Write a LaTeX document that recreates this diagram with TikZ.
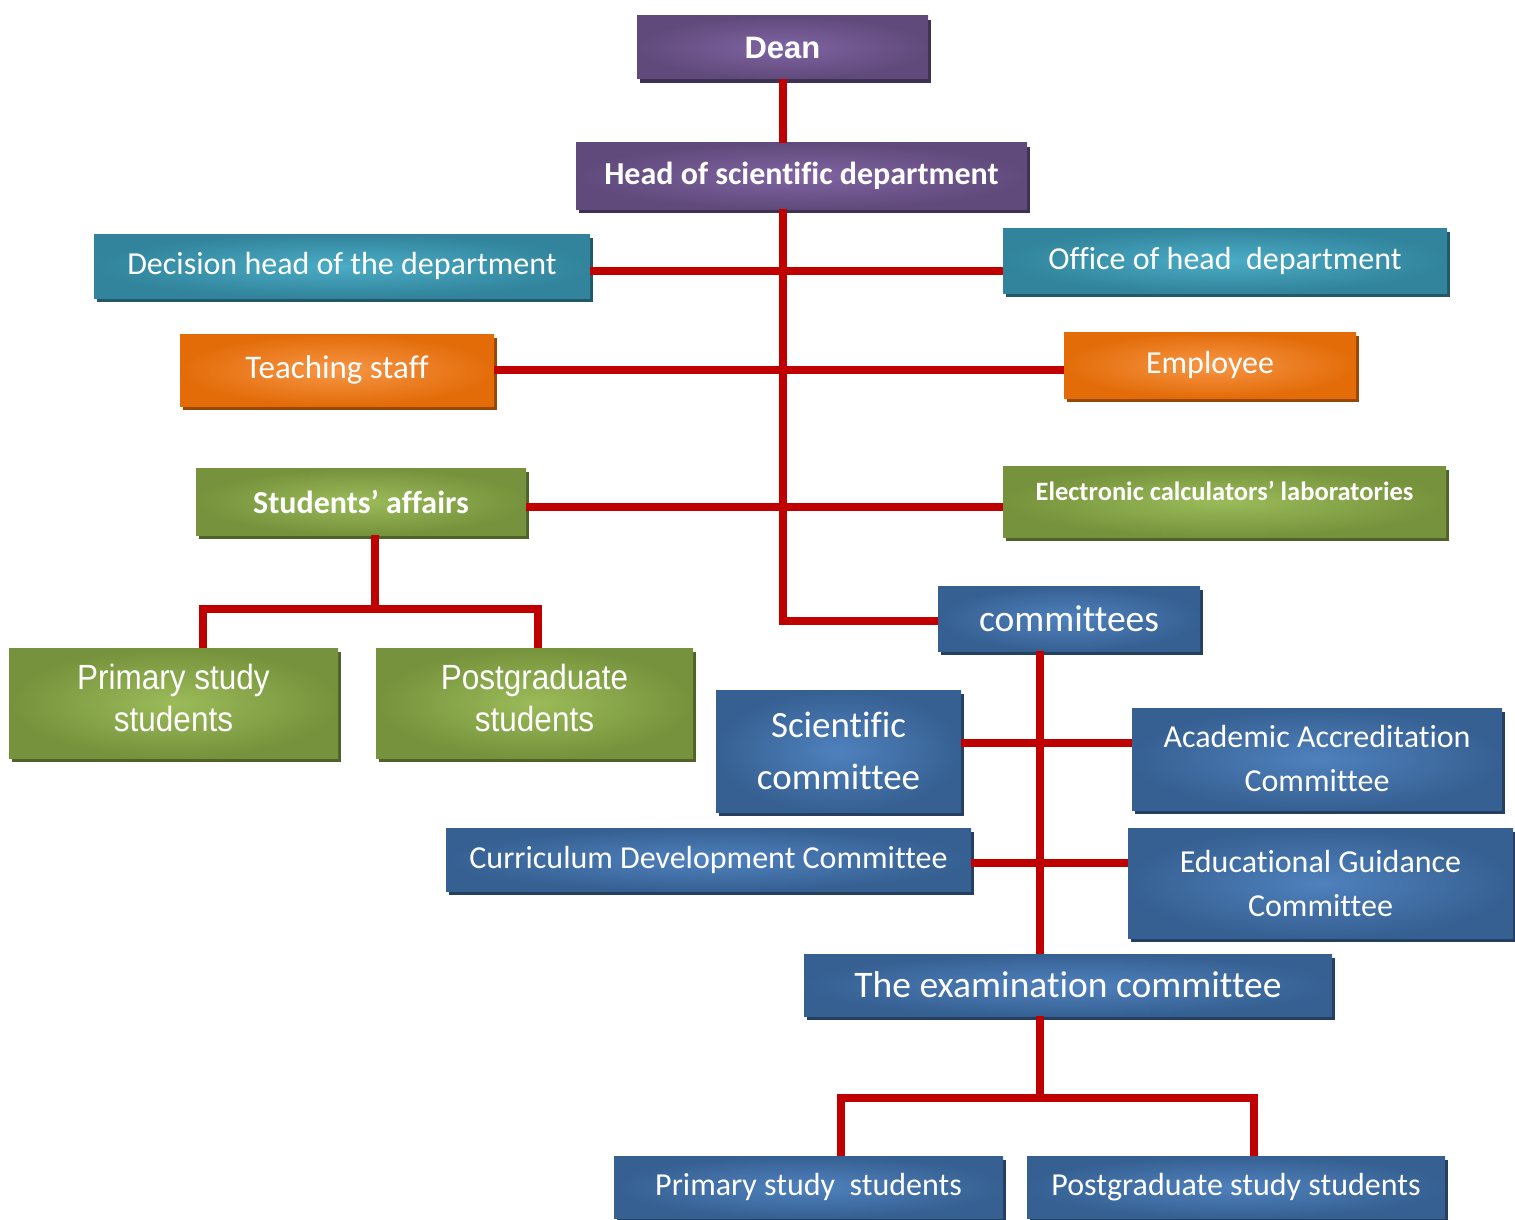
\documentclass[tikz,border=0pt]{standalone}
\usepackage{fontspec}
\setmainfont{Carlito}[Ligatures=CommonOff]
\newfontfamily\arialfont{Liberation Sans}
\newfontfamily\narrowfont{Liberation Sans}[FakeStretch=0.9]
\usetikzlibrary{shadows,calc}
\definecolor{cLine}{HTML}{C00000}
\definecolor{cPurpleOut}{HTML}{604A7B}
\definecolor{cPurpleIn}{HTML}{8064A2}
\definecolor{cPurpleSh}{HTML}{3F3151}
\definecolor{cTealOut}{HTML}{31849B}
\definecolor{cTealIn}{HTML}{4BACC6}
\definecolor{cTealSh}{HTML}{215968}
\definecolor{cOrangeOut}{HTML}{E36C09}
\definecolor{cOrangeIn}{HTML}{F79646}
\definecolor{cOrangeSh}{HTML}{984806}
\definecolor{cGreenOut}{HTML}{76923C}
\definecolor{cGreenIn}{HTML}{9BBB59}
\definecolor{cGreenSh}{HTML}{4F6228}
\definecolor{cBlueOut}{HTML}{366092}
\definecolor{cBlueIn}{HTML}{4F81BD}
\definecolor{cBlueSh}{HTML}{243F60}
\newcommand{\fsz}[2]{\fontsize{#1}{#2}\selectfont}
\tikzset{
  box/.style={rectangle, inner sep=0pt, align=center, text=white, shading=radial},
  purplebox/.style={box, inner color=cPurpleIn, outer color=cPurpleOut, drop shadow={shadow xshift=3pt, shadow yshift=-4pt, opacity=1, fill=cPurpleSh}},
  tealbox/.style={box, inner color=cTealIn, outer color=cTealOut, drop shadow={shadow xshift=3pt, shadow yshift=-4pt, opacity=1, fill=cTealSh}},
  orangebox/.style={box, inner color=cOrangeIn, outer color=cOrangeOut, drop shadow={shadow xshift=3pt, shadow yshift=-4pt, opacity=1, fill=cOrangeSh}},
  greenbox/.style={box, inner color=cGreenIn, outer color=cGreenOut, drop shadow={shadow xshift=3pt, shadow yshift=-4pt, opacity=1, fill=cGreenSh}},
  bluebox/.style={box, inner color=cBlueIn, outer color=cBlueOut, drop shadow={shadow xshift=3pt, shadow yshift=-4pt, opacity=1, fill=cBlueSh}},
  link/.style={cLine, line width=8pt},
}

\begin{document}
\begin{tikzpicture}[x=1pt, y=-1pt]
  \useasboundingbox (0,0) rectangle (1515,1220);
  % top of the chart
  \node[purplebox, minimum width=291pt, minimum height=63pt, font=\arialfont\bfseries\fsz{31}{34}] (dean) at (782.5, 47.5)
    {Dean};
  \node[purplebox, minimum width=451pt, minimum height=66pt, font=\bfseries\fsz{32}{36}] (head) at (801.5, 176)
    {Head of scientific department};
  \node[tealbox, minimum width=496pt, minimum height=64pt, font=\fsz{32}{36}] (decision) at (342, 266)
    {Decision head of the department};
  \node[tealbox, minimum width=444pt, minimum height=65pt, font=\fsz{32}{36}] (office) at (1225, 260.5)
    {Office of head\ \ department};
  \node[orangebox, minimum width=314pt, minimum height=72pt, font=\fsz{33}{36}] (teaching) at (337, 370)
    {Teaching staff};
  \node[orangebox, minimum width=292pt, minimum height=66pt, font=\fsz{32}{36}] (employee) at (1210, 365)
    {Employee};
  \node[greenbox, minimum width=330pt, minimum height=67pt, font=\bfseries\fsz{32}{36}] (affairs) at (361, 501.5)
    {Students’ affairs};
  \node[greenbox, minimum width=443pt, minimum height=71pt, text depth=22pt, font=\bfseries\fsz{26.5}{30}] (labs) at (1224.5, 501.5)
    {Electronic calculators’ laboratories};
  \node[bluebox, minimum width=262pt, minimum height=65pt, font=\fsz{37.5}{40}] (committees) at (1069, 618.5)
    {committees};
  % students' affairs branch
  \node[greenbox, minimum width=329pt, minimum height=110pt, font=\narrowfont\fsz{35}{42}] (primary) at (173.5, 703)
    {Primary study\\students\\[-32pt]};
  \node[greenbox, minimum width=317pt, minimum height=110pt, font=\narrowfont\fsz{35}{42}] (postgrad) at (534.5, 703)
    {Postgraduate\\students\\[-32pt]};
  % committees branch
  \node[bluebox, minimum width=245pt, minimum height=122pt, font=\fsz{37}{52}] (scientific) at (838.5, 751)
    {Scientific\\committee};
  \node[bluebox, minimum width=370pt, minimum height=102pt, font=\fsz{32}{44}] (accred) at (1317, 759)
    {Academic Accreditation\\Committee};
  \node[bluebox, minimum width=525pt, minimum height=63pt, font=\fsz{32}{36}] (curriculum) at (708.5, 859.5)
    {Curriculum Development Committee};
  \node[bluebox, minimum width=385pt, minimum height=110pt, font=\fsz{32}{44}] (guidance) at (1320.5, 883)
    {Educational Guidance\\Committee};
  \node[bluebox, minimum width=528pt, minimum height=62pt, font=\fsz{37.5}{40}] (exam) at (1068, 985)
    {The examination committee};
  \node[bluebox, minimum width=389pt, minimum height=62pt, font=\fsz{32}{36}] (examprim) at (808.5, 1187)
    {Primary study\ \ students};
  \node[bluebox, minimum width=418pt, minimum height=62pt, font=\fsz{32}{36}] (exampost) at (1236, 1187)
    {Postgraduate study students};
  % joints of the branches
  \coordinate (trunk) at (782.5, 621);
  \coordinate (sajoin) at (375, 609);
  \coordinate (exjoin) at (1040, 1098);
  % connectors
  \draw[link] (dean.south) -- (dean.south |- head.north);
  \draw[link] (dean.south |- head.south) -- (trunk) -- ([yshift=-2.5pt]committees.west);
  \draw[link] ([yshift=-5pt]decision.east) -- ([yshift=-5pt]decision.east -| office.west);
  \draw[link] (teaching.east) -- (teaching.east -| employee.west);
  \draw[link] ([yshift=-5.5pt]affairs.east) -- ([yshift=-5.5pt]affairs.east -| labs.west);
  \draw[link] (affairs.south -| sajoin) -- (sajoin);
  \draw[link] ([xshift=29.5pt]primary.north) |- (sajoin) -| ([xshift=3.5pt]postgrad.north);
  \draw[link] ([xshift=-29pt]committees.south) -- ([xshift=-29pt]committees.south |- exam.north);
  \draw[link] ([yshift=8pt]scientific.east) -- ([yshift=8pt]scientific.east -| accred.west);
  \draw[link] ([yshift=-3.5pt]curriculum.east) -- ([yshift=-3.5pt]curriculum.east -| guidance.west);
  \draw[link] (exam.south -| exjoin) -- (exjoin);
  \draw[link] ([xshift=32.5pt]examprim.north) |- (exjoin) -| ([xshift=18pt]exampost.north);
\end{tikzpicture}
\end{document}
